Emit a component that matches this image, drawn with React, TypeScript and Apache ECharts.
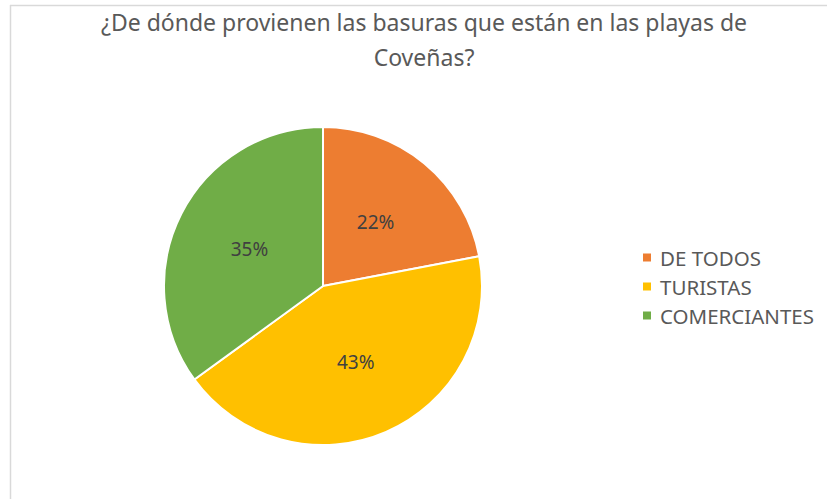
import React, { useEffect, useRef } from "react";
import * as echarts from "echarts";

const titleLines = ["¿De dónde provienen las basuras que están en las playas de", "Coveñas?"];
const categories = ["DE TODOS", "TURISTAS", "COMERCIANTES"];
const values = [22, 43, 35];
const colors = ["#ED7D31", "#FFC000", "#70AD47"];

export default function App() {
  const ref = useRef<HTMLDivElement>(null);
  useEffect(() => {
    if (!ref.current) return;
    const chart = echarts.init(ref.current, null, { renderer: "svg" });
    chart.setOption({
      animation: false,
      backgroundColor: "#ffffff",
      title: {
        text: titleLines.join("\n"),
        left: 424,
        top: 4,
        textAlign: "center",
        padding: 0,
        textStyle: {
          fontFamily: "Noto Sans",
          fontSize: 23,
          fontWeight: "normal",
          color: "#595959",
          lineHeight: 35,
        },
      },
      legend: {
        orient: "vertical",
        left: 636,
        top: 242,
        itemWidth: 10,
        itemHeight: 10,
        itemGap: 8,
        icon: "rect",
        data: categories,
        textStyle: {
          fontFamily: "Noto Sans",
          fontSize: 20.5,
          color: "#595959",
          lineHeight: 20,
          padding: [0, 0, 0, 3],
        },
      },
      graphic: [
        { type: "line", shape: { x1: 10, y1: 5.5, x2: 827, y2: 5.5 }, style: { stroke: "#d9d9d9", lineWidth: 1.5 } },
        { type: "line", shape: { x1: 10.5, y1: 5, x2: 10.5, y2: 499 }, style: { stroke: "#d9d9d9", lineWidth: 1.5 } },
      ],
      series: [
        {
          type: "pie",
          center: [323, 286],
          radius: 159,
          startAngle: 90,
          clockwise: true,
          data: categories.map((c, i) => ({ name: c, value: values[i], itemStyle: { color: colors[i] } })),
          itemStyle: { borderColor: "#ffffff", borderWidth: 2 },
          label: {
            show: true,
            position: "inside",
            formatter: "{d}%",
            fontFamily: "Noto Sans",
            fontSize: 19,
            color: "#404040",
          },
          labelLine: { show: false },
          emphasis: { disabled: true },
        },
      ],
    });
    return () => chart.dispose();
  }, []);
  return <div ref={ref} style={{ position: "fixed", left: 0, top: 0, width: 827, height: 499 }} />;
}
